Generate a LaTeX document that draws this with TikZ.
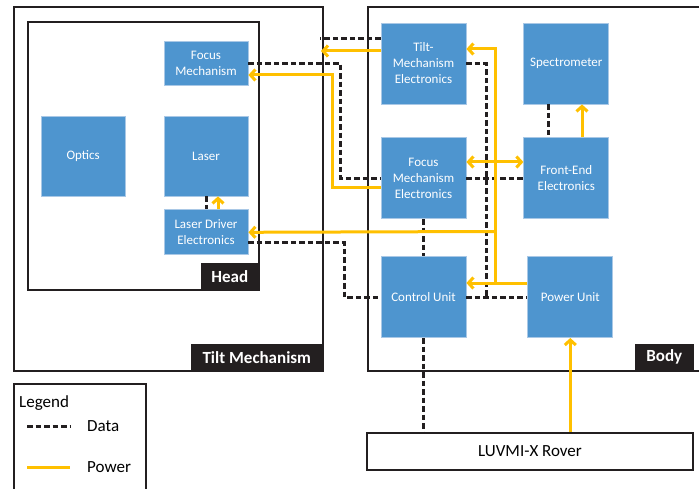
\documentclass[tikz,border=0pt]{standalone}
\usepackage{fontspec}
\setmainfont{Carlito}
\usepackage{xcolor}
\usetikzlibrary{positioning,arrows.meta}
\definecolor{boxblue}{HTML}{4E95CF}
\definecolor{boxedge}{HTML}{A9C8E6}
\definecolor{gold}{HTML}{FFC000}
\definecolor{ink}{HTML}{231F20}

\begin{document}
\begin{tikzpicture}[x=1pt,y=-1pt,node distance=30pt,
  blk/.style={fill=boxblue,draw=boxedge,line width=0.8pt,text=white,align=center,
              inner sep=0pt,minimum width=84pt,minimum height=80pt,
              font=\fontsize{13}{16}\selectfont},
  frm/.style={draw=ink,line width=1.6pt},
  tag/.style={fill=ink,text=white,inner sep=0pt,anchor=south east,minimum height=27pt,
              font=\fontsize{17}{20}\selectfont\bfseries},
  txt/.style={inner sep=0pt,anchor=west,font=\fontsize{17}{20}\selectfont},
  dat/.style={ink,line width=3pt,line cap=butt,dash pattern=on 5.5pt off 3pt},
  pwr/.style={gold,line width=3pt},
  arr/.style={-{Straight Barb[length=5pt,width=11pt]}},
  arr2/.style={{Straight Barb[length=5pt,width=11pt]}-{Straight Barb[length=5pt,width=11pt]}}]
\useasboundingbox (0,0) rectangle (699,489);
% frames
\draw[frm] (14,7) rectangle (323,371);
\draw[frm] (28,22) rectangle (259,290);
\draw[frm] (699,7) -- (368,7) -- (368,371) -- (699,371);
\draw[frm] (14,489) -- (14,384) -- (146,384) -- (146,489);
\node[tag,minimum width=58pt] (headlbl) at (259,290) {Head};
\node[tag,minimum width=132pt] (tiltlbl) at (323,371) {Tilt Mechanism};
\node[tag,minimum width=59pt] (bodylbl) at (694,371) {Body};
% head
\node[blk] (las) at (206,156) {Laser};
\node[blk,left=38pt of las] (opt) {Optics};
\node[blk,minimum height=44pt,above=of las] (fm) {Focus\\Mechanism};
\node[blk,minimum height=45pt,below=13pt of las] (lde) {Laser Driver\\Electronics};
% body
\node[blk,minimum width=85pt,minimum height=81pt] (tme) at (423.5,63.5) {Tilt-\\Mechanism\\Electronics};
\node[blk,minimum width=85pt,minimum height=81pt,right=57pt of tme] (spec) {Spectrometer};
\node[blk,minimum width=85pt,minimum height=81pt,below=33pt of tme] (fme) {Focus\\Mechanism\\Electronics};
\node[blk,minimum width=85pt,minimum height=81pt,right=57pt of fme] (fee) {Front-End\\Electronics};
\node[blk,minimum width=85pt,minimum height=81pt,below=37pt of fme] (cu) {Control Unit};
\node[blk,minimum width=85pt,minimum height=81pt,right=61pt of cu] (pu) {Power Unit};
\node[frm,inner sep=0pt,minimum width=326pt,minimum height=37pt,
      font=\fontsize{17}{20}\selectfont] (rover) at (530,451.5) {LUVMI-X Rover};
% legend
\node[txt] (leg) at (19,403) {Legend};
\coordinate (d1) at (27,426); \coordinate (d2) at (70,426);
\coordinate (p1) at (27,467); \coordinate (p2) at (70,467);
\node[txt] (dtxt) at (87,426) {Data};
\node[txt] (ptxt) at (87,467) {Power};
\draw[dat] (d1) -- (d2);
\draw[pwr] (p1) -- (p2);
% ends and junctions
\coordinate (tmd) at (320,39);
\coordinate (tmp) at (321,51);
\coordinate (jd) at (486,295.5);
\coordinate (jp) at (495,283);
\coordinate (jl) at (495,231.5);
% data
\draw[dat] (tme.west |- tmd) -- (tmd);
\draw[dat] (fm.east) -- ++(92,0) |- (fme.west);
\draw[dat] (fme.east) -- (fee.west);
\draw[dat] (spec.south -| 548,0) -- (fee.north -| 548,0);
\draw[dat] (tme.east) -| (jd);
\draw[dat] (cu.east) -- (pu.west);
\draw[dat] (fme.south) -- (cu.north);
\draw[dat] (cu.south) -- (cu.south |- rover.north);
\draw[dat] (lde.east |- 0,243) -- ++(96,0) |- (cu.west);
\draw[dat] (las.south) -- (lde.north);
% power
\draw[pwr,arr] (tme.west |- tmp) -- (tmp);
\draw[pwr,arr] (fme.west |- 0,188) -- ++(-48,0) |- (fm.east |- 0,75);
\draw[pwr,arr2] (fme.east |- 0,162) -- (fee.west |- 0,162);
\draw[pwr,arr] (fee.north -| 582,0) -- (spec.south -| 582,0);
\draw[pwr,arr] (pu.west |- jp) -- (cu.east |- jp);
\draw[pwr,arr] (jp) |- (tme.east |- 0,49);
\draw[pwr,arr] (jl) -- (lde.east);
\draw[pwr,arr] (pu.south |- rover.north) -- (pu.south);
\draw[pwr,arr] ([xshift=12pt]lde.north) -- ([xshift=12pt]las.south);
\end{tikzpicture}
\end{document}
